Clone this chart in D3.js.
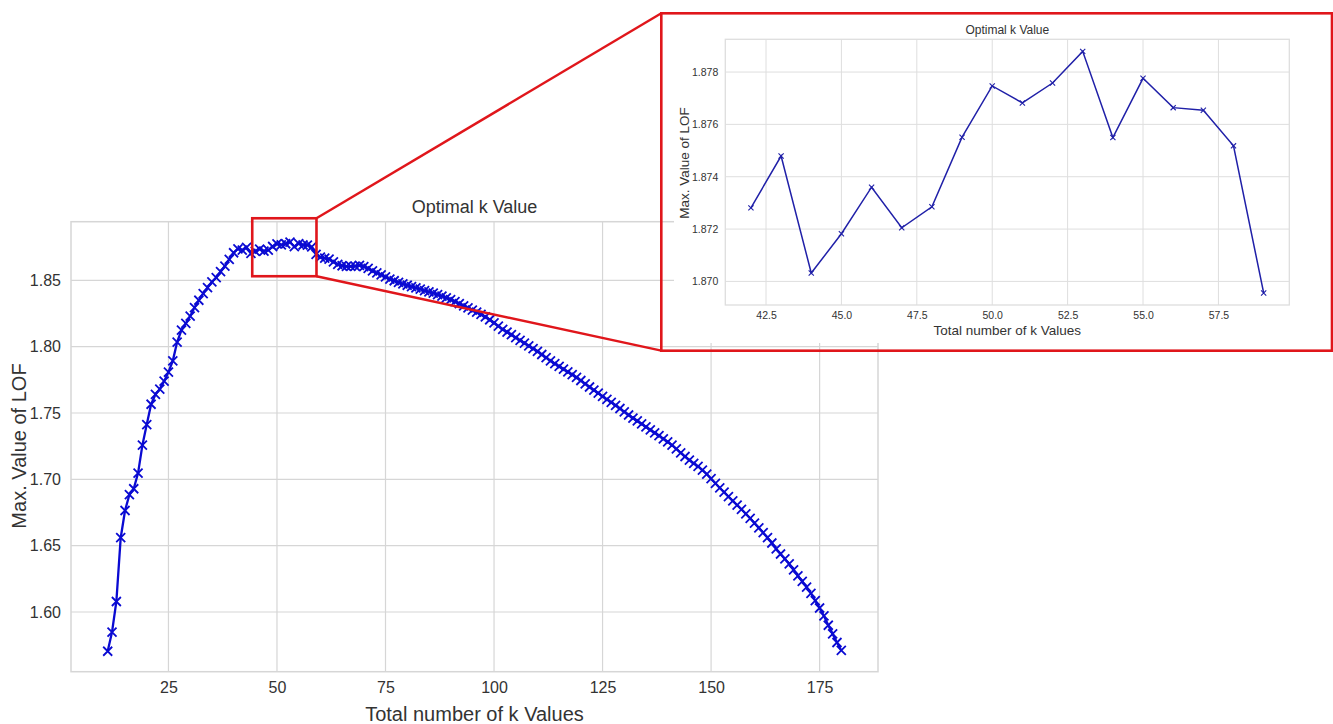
<!DOCTYPE html>
<html>
<head>
<meta charset="utf-8">
<script src="https://cdn.jsdelivr.net/npm/d3@7"></script>
<style>
  body { margin: 0; background: #fff; }
  text { font-family: "Liberation Sans", Arial, sans-serif; fill: #333; }
</style>
</head>
<body>
<svg id="chart" width="1333" height="724"></svg>
<script>
// k values 11..180 and max LOF
const kValues = d3.range(11, 181);
const lofValues = [
  1.5704, 1.5848, 1.6079, 1.6560, 1.6765, 1.6884, 1.6929, 1.7047, 1.7258, 1.7413,
  1.7566, 1.7640, 1.7680, 1.7740, 1.7808, 1.7893, 1.8035, 1.8125, 1.8175, 1.8230,
  1.8295, 1.8350, 1.8400, 1.8445, 1.8488, 1.8520, 1.8565, 1.8608, 1.8658, 1.8708,
  1.8737, 1.87281, 1.87479, 1.87032, 1.87182, 1.87360, 1.87205, 1.87285, 1.87551, 1.87747,
  1.87682, 1.87758, 1.87879, 1.87550, 1.87776, 1.87664, 1.87654, 1.87518, 1.86956, 1.8675,
  1.8668, 1.8660, 1.8640, 1.8620, 1.8610, 1.8605, 1.8606, 1.8608, 1.8612, 1.8604,
  1.8590, 1.8572, 1.8556, 1.8542, 1.8527, 1.8510, 1.8497, 1.8485, 1.8474, 1.8463,
  1.8452, 1.8443, 1.8433, 1.8422, 1.8413, 1.8403, 1.8392, 1.8381, 1.8368, 1.8355,
  1.8340, 1.8325, 1.8308, 1.8292, 1.8276, 1.8260, 1.8243, 1.8225, 1.8203, 1.8180,
  1.8155, 1.8130, 1.8110, 1.8090, 1.8068, 1.8047, 1.8027, 1.8006, 1.7986, 1.7965,
  1.7941, 1.7917, 1.7893, 1.7872, 1.7851, 1.7830, 1.7810, 1.7790, 1.7768, 1.7745,
  1.7720, 1.7696, 1.7672, 1.7649, 1.7625, 1.7603, 1.7580, 1.7558, 1.7534, 1.7509,
  1.7485, 1.7462, 1.7440, 1.7418, 1.7395, 1.7372, 1.7350, 1.7330, 1.7305, 1.7283,
  1.7258, 1.7230, 1.7200, 1.7172, 1.7145, 1.7120, 1.7097, 1.7070, 1.7040, 1.7005,
  1.6970, 1.6935, 1.6903, 1.6870, 1.6838, 1.6806, 1.6774, 1.6740, 1.6706, 1.6670,
  1.6634, 1.6598, 1.6560, 1.6520, 1.6475, 1.6437, 1.6400, 1.6362, 1.6318, 1.6273,
  1.6230, 1.6187, 1.6140, 1.6085, 1.6030, 1.5970, 1.5900, 1.5835, 1.5770, 1.5710
];

// zoomed part shown in the inset
const zoomK = d3.range(42, 60);
const zoomLof = lofValues.slice(42 - 11, 60 - 11);

const xTicks = [25, 50, 75, 100, 125, 150, 175];
const yTicks = [1.60, 1.65, 1.70, 1.75, 1.80, 1.85];
const zxTicks = [42.5, 45.0, 47.5, 50.0, 52.5, 55.0, 57.5];
const zyTicks = [1.870, 1.872, 1.874, 1.876, 1.878];

// highlight box on the main plot, in data units
const boxK = [44.3, 59.1];
const boxLof = [1.8531, 1.8968];

const title = "Optimal k Value";
const xLabel = "Total number of k Values";
const yLabel = "Max. Value of LOF";

const svg = d3.select("#chart");

// matplotlib style 5% padding
function pad(ext) {
  const m = (ext[1] - ext[0]) * 0.05;
  return [ext[0] - m, ext[1] + m];
}

function drawPanel(g, o) {
  const x = d3.scaleLinear().domain(pad(d3.extent(o.xs))).range([o.left, o.right]);
  const y = d3.scaleLinear().domain(pad(d3.extent(o.ys))).range([o.bottom, o.top]);

  g.append("g").selectAll("line.vg").data(o.xTicks).enter().append("line")
    .attr("x1", d => x(d)).attr("x2", d => x(d))
    .attr("y1", o.top).attr("y2", o.bottom)
    .attr("stroke", o.grid).attr("stroke-width", o.gridW);
  g.append("g").selectAll("line.hg").data(o.yTicks).enter().append("line")
    .attr("x1", o.left).attr("x2", o.right)
    .attr("y1", d => y(d)).attr("y2", d => y(d))
    .attr("stroke", o.grid).attr("stroke-width", o.gridW);
  g.append("rect")
    .attr("x", o.left).attr("y", o.top)
    .attr("width", o.right - o.left).attr("height", o.bottom - o.top)
    .attr("fill", "none").attr("stroke", o.grid).attr("stroke-width", o.gridW + 0.3);

  const xAxis = d3.axisBottom(x).tickValues(o.xTicks).tickSize(0).tickPadding(o.tickPad)
    .tickFormat(d3.format(o.xFmt));
  const yAxis = d3.axisLeft(y).tickValues(o.yTicks).tickSize(0).tickPadding(o.tickPad)
    .tickFormat(d3.format(o.yFmt));
  const gx = g.append("g").attr("transform", `translate(0,${o.bottom})`).call(xAxis);
  const gy = g.append("g").attr("transform", `translate(${o.left},0)`).call(yAxis);
  [gx, gy].forEach(a => {
    a.select(".domain").remove();
    a.selectAll("text").style("font-size", o.tickSize + "px").attr("fill", "#333")
      .style("font-family", "'Liberation Sans', Arial, sans-serif");
  });

  const line = d3.line().x((d, i) => x(o.xs[i])).y(d => y(d));
  g.append("path").datum(o.ys).attr("d", line)
    .attr("fill", "none").attr("stroke", o.color).attr("stroke-width", o.lineW);
  const r = o.mark;
  g.append("g").selectAll("path.m").data(o.ys).enter().append("path")
    .attr("d", `M${-r},${-r}L${r},${r}M${-r},${r}L${r},${-r}`)
    .attr("transform", (d, i) => `translate(${x(o.xs[i])},${y(d)})`)
    .attr("stroke", o.color).attr("stroke-width", o.markW).attr("fill", "none");

  const cx = (o.left + o.right) / 2;
  g.append("text").attr("x", cx).attr("y", o.titleY).attr("text-anchor", "middle")
    .style("font-size", o.titleSize + "px").text(title);
  g.append("text").attr("x", cx).attr("y", o.xLabY).attr("text-anchor", "middle")
    .style("font-size", o.labSize + "px").text(xLabel);
  g.append("text").attr("transform", `translate(${o.yLabX},${o.yLabMid}) rotate(-90)`)
    .attr("text-anchor", "middle").style("font-size", o.labSize + "px").text(yLabel);

  return { x, y };
}

// main chart
const main = drawPanel(svg.append("g"), {
  xs: kValues, ys: lofValues, xTicks, yTicks, xFmt: "d", yFmt: ".2f",
  left: 71, right: 878, top: 221.7, bottom: 671.7,
  grid: "#d6d6d6", gridW: 1.2, tickPad: 10, tickSize: 16,
  color: "#0a0ad2", lineW: 2.3, mark: 4.5, markW: 1.8,
  titleY: 213, titleSize: 18, xLabY: 721, labSize: 20, yLabX: 26, yLabMid: 446
});

// highlight box
const bx0 = main.x(boxK[0]), bx1 = main.x(boxK[1]);
const by0 = main.y(boxLof[1]), by1 = main.y(boxLof[0]);
svg.append("rect").attr("x", bx0).attr("y", by0)
  .attr("width", bx1 - bx0).attr("height", by1 - by0)
  .attr("fill", "none").attr("stroke", "#e0161b").attr("stroke-width", 2.6);

// inset frame
const inset = { x0: 661.3, y0: 13.3, x1: 1332, y1: 350.7 };
svg.append("line").attr("x1", bx1).attr("y1", by0).attr("x2", inset.x0).attr("y2", inset.y0)
  .attr("stroke", "#e0161b").attr("stroke-width", 2.4);
svg.append("line").attr("x1", bx1).attr("y1", by1).attr("x2", inset.x0).attr("y2", inset.y1)
  .attr("stroke", "#e0161b").attr("stroke-width", 2.4);
svg.append("rect").attr("x", 674).attr("y", inset.y0)
  .attr("width", inset.x1 - 674).attr("height", 343 - inset.y0).attr("fill", "#fff");

drawPanel(svg.append("g"), {
  xs: zoomK, ys: zoomLof, xTicks: zxTicks, yTicks: zyTicks, xFmt: ".1f", yFmt: ".3f",
  left: 725.3, right: 1289.3, top: 39.3, bottom: 305,
  grid: "#dedede", gridW: 1, tickPad: 7, tickSize: 10.5,
  color: "#2020a8", lineW: 1.5, mark: 2.6, markW: 1.1,
  titleY: 34, titleSize: 12, xLabY: 335, labSize: 13.5, yLabX: 689, yLabMid: 163
});

svg.append("rect").attr("x", inset.x0).attr("y", inset.y0)
  .attr("width", inset.x1 - inset.x0).attr("height", inset.y1 - inset.y0)
  .attr("fill", "none").attr("stroke", "#e0161b").attr("stroke-width", 2.6);
</script>
</body>
</html>
